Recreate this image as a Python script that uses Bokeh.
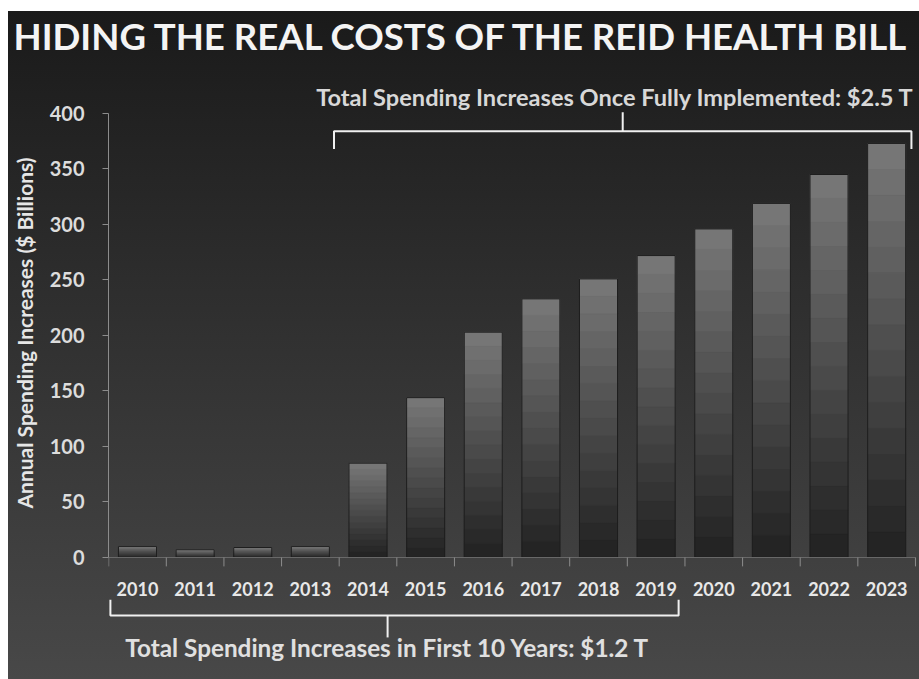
from bokeh.plotting import figure
from bokeh.models import FixedTicker, Range1d, Title
from bokeh.core.properties import value
from bokeh.embed import file_html
from bokeh.resources import INLINE

# ---- data ----
years = [2010, 2011, 2012, 2013, 2014, 2015, 2016, 2017, 2018, 2019, 2020, 2021, 2022, 2023]
spending = [10, 7, 9, 10, 85, 144, 203, 233, 251, 272, 296, 319, 345, 373]
y_ticks = [0, 50, 100, 150, 200, 250, 300, 350, 400]
title_text = "HIDING THE REAL COSTS OF THE REID HEALTH BILL"
y_label = "Annual Spending Increases ($ Billions)"
top_note = "Total Spending Increases Once Fully Implemented: $2.5 T"
bottom_note = "Total Spending Increases in First 10 Years: $1.2 T"

FONT = "Lato"

p = figure(width=919, height=679, output_backend="svg", toolbar_location=None,
           x_range=Range1d(2009.497, 2023.57), y_range=Range1d(-109.9, 440.5),
           min_border_left=107, min_border_right=0, min_border_top=68, min_border_bottom=0)
p.styles = {"background": "linear-gradient(#1a1a1a, #2d2d2d 40%, #484848) 8px 11px / calc(100% - 8px) calc(100% - 11px) no-repeat, #ffffff"}
p.border_fill_color = None
p.background_fill_color = None
p.outline_line_color = None
p.grid.visible = False
p.xaxis.visible = False

# title
t = Title(text=title_text, align="left", offset=-95, text_font=FONT,
          text_font_size="36.6px", text_font_style="bold", text_color="#f4f4f4",
          standoff=21)
p.add_layout(t, "above")

# y axis
ya = p.yaxis[0]
ya.bounds = (0, 400)
ya.ticker = FixedTicker(ticks=y_ticks)
ya.axis_line_color = "#8c8c8c"
ya.major_tick_line_color = "#8c8c8c"
ya.major_tick_out = 6
ya.major_tick_in = 0
ya.minor_tick_line_color = None
ya.major_label_standoff = 18
ya.major_label_text_font = FONT
ya.major_label_text_font_style = "bold"
ya.major_label_text_font_size = "20px"
ya.major_label_text_color = "#dcdcdc"

# y axis title, placed along the 0-400 part of the axis
yt = Title(text=y_label, align="left", offset=171, text_font=FONT,
           text_font_size="21px", text_font_style="bold", text_color="#e6e6e6",
           standoff=19)
p.add_layout(yt, "left")

# bars with vertical gradient (stacked slices of each value)
N = 16
dark = (36, 36, 36)
light = (118, 118, 118)
for i in range(N):
    f = i / (N - 1)
    c = tuple(int(dark[k] + (light[k] - dark[k]) * f) for k in range(3))
    col = "#%02x%02x%02x" % c
    p.vbar(x=years, width=0.66,
           bottom=[v * i / N for v in spending],
           top=[v * (i + 1) / N for v in spending],
           fill_color=col, line_color=col, line_width=0.6)
p.vbar(x=years, width=0.66, bottom=0, top=spending, fill_color=None,
       line_color="#1e1e1e", line_width=1)

# x axis baseline, boundary ticks, labels
p.line(x=[years[0] - 0.5, years[-1] + 0.5], y=[0, 0], line_color="#6a6a6a", line_width=1)
bounds = [y - 0.5 for y in years] + [years[-1] + 0.5]
p.segment(x0=bounds, y0=[0] * len(bounds), x1=bounds, y1=[-8] * len(bounds),
          line_color="#8c8c8c", line_width=1)
p.text(x=years, y=[-28] * len(years), text=[str(y) for y in years],
       text_font=value(FONT), text_font_style="bold", text_font_size="18px",
       text_color="#e8e8e8", text_align="center", text_baseline="middle")

# top bracket
tl, tr, tm = years[4] - 0.59, years[-1] + 0.43, years[8] + 0.42
ty, tend, ttip = 384, 368, 401
p.line(x=[tl, tl, tr, tr], y=[tend, ty, ty, tend], line_color="#f0f0f0", line_width=2)
p.line(x=[tm, tm], y=[ty, ttip], line_color="#f0f0f0", line_width=2)
p.text(x=[tl - 0.31], y=[415], text=[top_note], text_font=value(FONT),
       text_font_size="23.6px", text_font_style="bold", text_color="#d8d8d8",
       text_align="left", text_baseline="middle")

# bottom bracket
bl, br, bm = years[0] - 0.47, years[9] + 0.39, years[4] + 0.34
by, bend, btip = -52.3, -38, -72
p.line(x=[bl, bl, br, br], y=[bend, by, by, bend], line_color="#f0f0f0", line_width=2)
p.line(x=[bm, bm], y=[by, btip], line_color="#f0f0f0", line_width=2)
p.text(x=[bm], y=[-81], text=[bottom_note], text_font=value(FONT),
       text_font_size="24.3px", text_font_style="bold", text_color="#e0e0e0",
       text_align="center", text_baseline="middle")

open("out.html", "w").write(file_html(p, INLINE))
